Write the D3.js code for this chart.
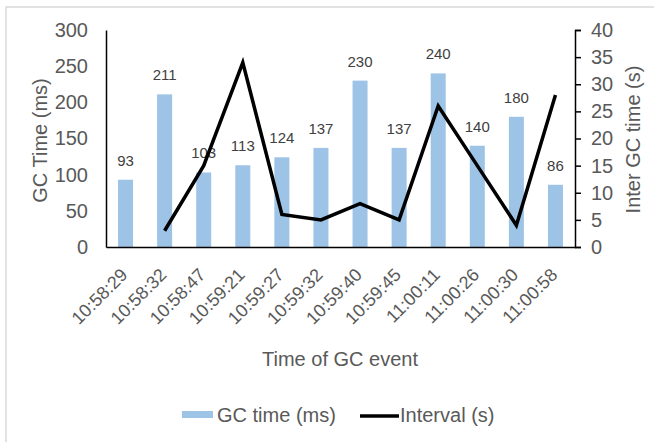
<!DOCTYPE html>
<html>
<head>
<meta charset="utf-8">
<script src="https://cdn.jsdelivr.net/npm/d3@7/dist/d3.min.js"></script>
<style>
  html, body { margin: 0; padding: 0; background: #fff; }
  svg { display: block; }
  text { font-family: "Liberation Sans", Arial, sans-serif; }
</style>
</head>
<body>
<script>
// GC events: timestamp, pause duration, and time since the previous event
const categories = ["10:58:29", "10:58:32", "10:58:47", "10:59:21", "10:59:27", "10:59:32",
                    "10:59:40", "10:59:45", "11:00:11", "11:00:26", "11:00:30", "11:00:58"];
const gcTimeMs = [93, 211, 103, 113, 124, 137, 230, 137, 240, 140, 180, 86];
const intervalSec = [null, 3, 15, 34, 6, 5, 8, 5, 26, 15, 4, 28];
const leftTicks = [0, 50, 100, 150, 200, 250, 300];
const rightTicks = [0, 5, 10, 15, 20, 25, 30, 35, 40];

const W = 654, H = 442;
const plot = { left: 106, right: 575, top: 30, bottom: 247 };
const textColor = "#595959";

const svg = d3.select("body").append("svg").attr("width", W).attr("height", H);

// chart frame
svg.append("path")
  .attr("d", `M6,${H} V7 H${W}`)
  .attr("fill", "none").attr("stroke", "#d9d9d9").attr("stroke-width", 1.5);

const x = d3.scaleBand().domain(categories).range([plot.left, plot.right]).paddingInner(0).paddingOuter(0);
const yL = d3.scaleLinear().domain([0, 300]).range([plot.bottom, plot.top]);
const yR = d3.scaleLinear().domain([0, 40]).range([plot.bottom, plot.top]);

const barW = 15;

// bars
svg.append("g").selectAll("rect")
  .data(categories)
  .join("rect")
  .attr("x", (d) => x(d) + x.bandwidth() / 2 - barW / 2)
  .attr("y", (d, i) => yL(gcTimeMs[i]))
  .attr("width", barW)
  .attr("height", (d, i) => plot.bottom - yL(gcTimeMs[i]))
  .attr("fill", "#9dc3e6");

// bar value labels
svg.append("g").selectAll("text")
  .data(categories)
  .join("text")
  .attr("x", (d) => x(d) + x.bandwidth() / 2)
  .attr("y", (d, i) => yL(gcTimeMs[i]) - 14)
  .attr("text-anchor", "middle")
  .attr("font-size", 15)
  .attr("fill", "#404040")
  .text((d, i) => gcTimeMs[i]);

// interval line
const line = d3.line()
  .defined((d) => d.v != null)
  .x((d) => x(d.c) + x.bandwidth() / 2)
  .y((d) => yR(d.v));
svg.append("path")
  .datum(categories.map((c, i) => ({ c, v: intervalSec[i] })))
  .attr("d", line)
  .attr("fill", "none")
  .attr("stroke", "#000")
  .attr("stroke-width", 3.5)
  .attr("stroke-linejoin", "miter");

// left axis
const gL = svg.append("g").attr("transform", `translate(${plot.left},0)`)
  .call(d3.axisLeft(yL).tickValues(leftTicks).tickSize(0).tickPadding(18));
gL.select(".domain").attr("stroke", "#000").attr("stroke-width", 1.5);
gL.selectAll("text").attr("font-size", 20).attr("fill", textColor).attr("font-family", null);

// right axis
const gR = svg.append("g").attr("transform", `translate(${plot.right},0)`)
  .call(d3.axisRight(yR).tickValues(rightTicks).tickSize(6).tickSizeOuter(6).tickPadding(10));
gR.select(".domain").attr("stroke", "#000").attr("stroke-width", 1.5);
gR.selectAll(".tick line").attr("stroke", "#000").attr("stroke-width", 1.5);
gR.selectAll("text").attr("font-size", 20).attr("fill", textColor).attr("font-family", null);

// bottom axis
const gB = svg.append("g").attr("transform", `translate(0,${plot.bottom})`)
  .call(d3.axisBottom(x).tickSize(0).tickSizeOuter(0).tickPadding(0));
gB.select(".domain").attr("stroke", "#000").attr("stroke-width", 1.5);
gB.selectAll("text")
  .attr("font-size", 18)
  .attr("fill", textColor)
  .attr("font-family", null)
  .attr("text-anchor", "end")
  .attr("dy", null)
  .attr("y", 0)
  .attr("transform", "translate(3,29) rotate(-45)");

// axis titles
svg.append("text")
  .attr("transform", `translate(47,${(plot.top + plot.bottom) / 2 + 2}) rotate(-90)`)
  .attr("text-anchor", "middle")
  .attr("font-size", 20).attr("fill", textColor)
  .text("GC Time (ms)");

svg.append("text")
  .attr("transform", `translate(640,${(plot.top + plot.bottom) / 2 + 1}) rotate(-90)`)
  .attr("text-anchor", "middle")
  .attr("font-size", 20).attr("fill", textColor)
  .text("Inter GC time (s)");

svg.append("text")
  .attr("x", 340).attr("y", 366)
  .attr("text-anchor", "middle")
  .attr("font-size", 20).attr("fill", textColor)
  .text("Time of GC event");

// legend
const legend = svg.append("g");
legend.append("rect").attr("x", 182).attr("y", 411).attr("width", 31).attr("height", 7).attr("fill", "#9dc3e6");
legend.append("text").attr("x", 217).attr("y", 422).attr("font-size", 20).attr("fill", textColor).text("GC time (ms)");
legend.append("line").attr("x1", 360).attr("x2", 399).attr("y1", 416).attr("y2", 416)
  .attr("stroke", "#000").attr("stroke-width", 3.5);
legend.append("text").attr("x", 400).attr("y", 422).attr("font-size", 20).attr("fill", textColor).text("Interval (s)");
</script>
</body>
</html>
